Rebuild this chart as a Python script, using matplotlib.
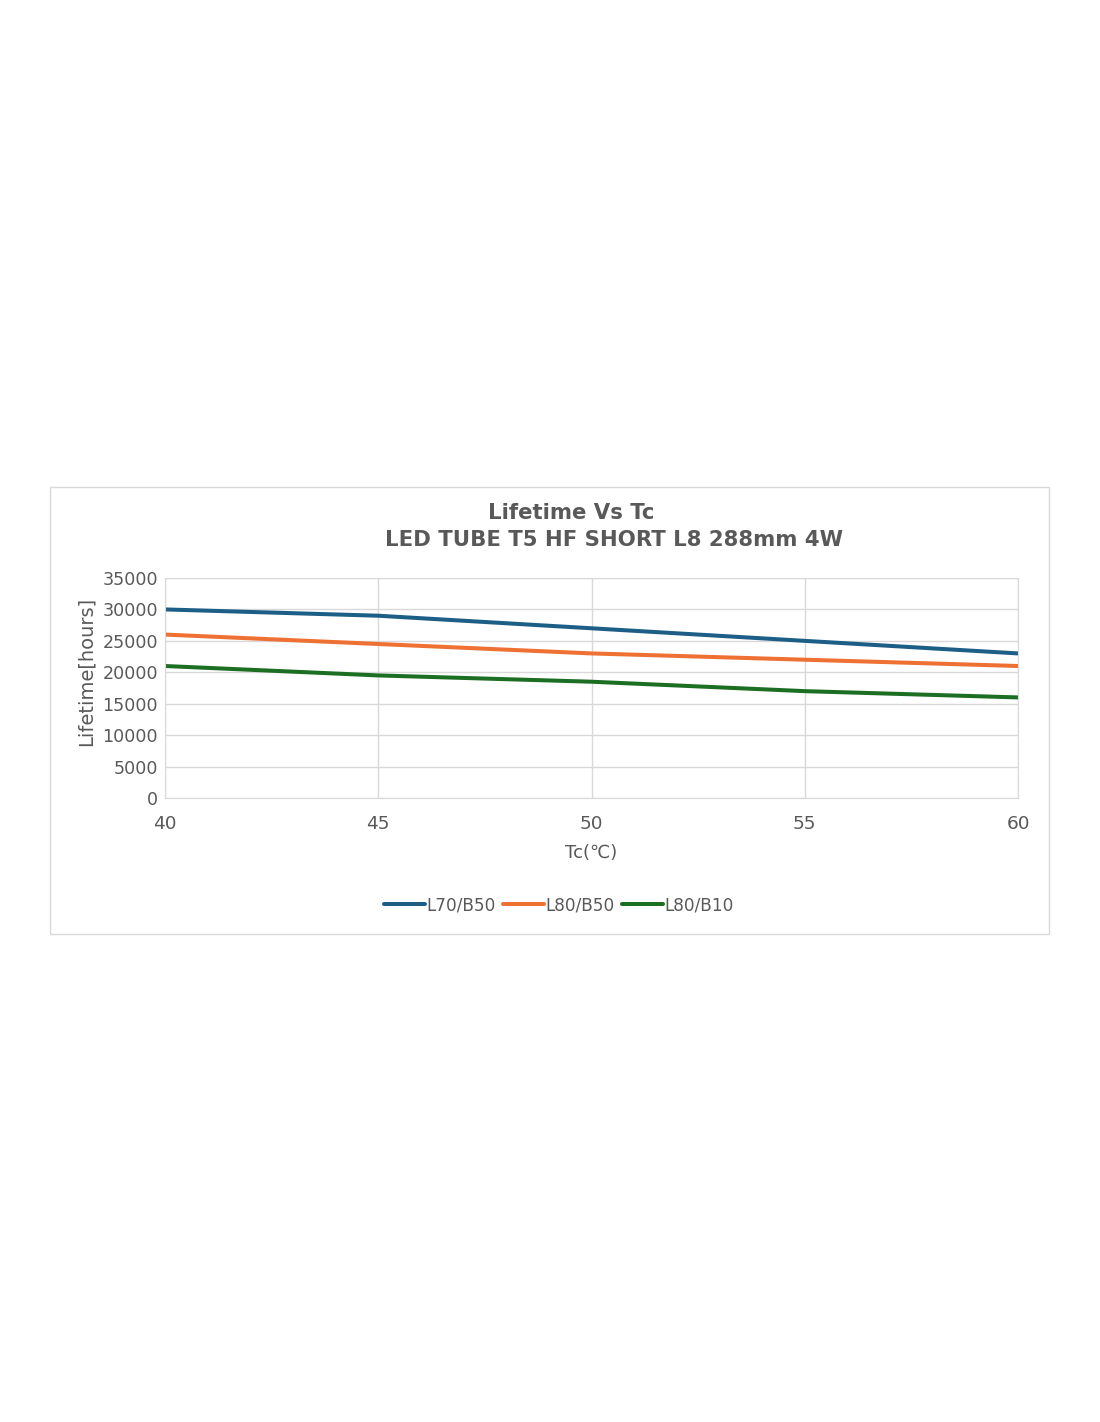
import matplotlib.pyplot as plt
from matplotlib.patches import Rectangle

W, H = 1100, 1422

tc = [40, 45, 50, 55, 60]
l70_b50 = [30000, 29000, 27000, 25000, 23000]
l80_b50 = [26000, 24500, 23000, 22000, 21000]
l80_b10 = [21000, 19500, 18500, 17000, 16000]
series_names = ["L70/B50", "L80/B50", "L80/B10"]
colors = ["#1c5e86", "#ee7033", "#1c6e22"]
gray = "#595959"

fig = plt.figure(figsize=(W / 100, H / 100), dpi=100)

# outer chart border
fig.patches.append(Rectangle((50 / W, 1 - 934 / H), 999 / W, 447 / H,
                             transform=fig.transFigure, fill=False,
                             edgecolor="#d9d9d9", linewidth=1))

# axes in pixel coords: x 165..1018, y 578..798
ax = fig.add_axes([165 / W, 1 - 798 / H, (1018 - 165) / W, (798 - 578) / H])
for vals, name, c in zip([l70_b50, l80_b50, l80_b10], series_names, colors):
    ax.plot(tc, vals, color=c, lw=2.9, label=name, solid_capstyle="round")

ax.set_xlim(40, 60)
ax.set_ylim(0, 35000)
ax.set_xticks(tc)
ax.set_yticks(range(0, 35001, 5000))
ax.grid(True, color="#d9d9d9", lw=1)
ax.set_axisbelow(True)
for s in ax.spines.values():
    s.set_color("#d9d9d9")
ax.tick_params(length=0, colors=gray)
ax.tick_params(axis="y", labelsize=12.6, pad=5)
ax.tick_params(axis="x", labelsize=13.3, pad=12.5)
ax.set_ylabel("Lifetime[hours]", fontsize=14, color=gray)
ax.yaxis.set_label_coords(-0.081, 0.577)
ax.set_xlabel("Tc(℃)", fontsize=13, color=gray, labelpad=8)

fig.text(571 / W, 1 - 513 / H, "Lifetime Vs Tc", ha="center", va="center",
         fontsize=15.3, fontweight="bold", color=gray)
fig.text(614 / W, 1 - 540 / H, "LED TUBE T5 HF SHORT L8 288mm 4W", ha="center",
         va="center", fontsize=15.3, fontweight="bold", color=gray)

leg = fig.legend(loc="center", bbox_to_anchor=(559 / W, 1 - 905 / H), ncol=3,
                 frameon=False, fontsize=12.2, handlelength=2.4, handletextpad=0.1,
                 columnspacing=0.45)
for t in leg.get_texts():
    t.set_color(gray)

fig.savefig("out.png", dpi=100)
